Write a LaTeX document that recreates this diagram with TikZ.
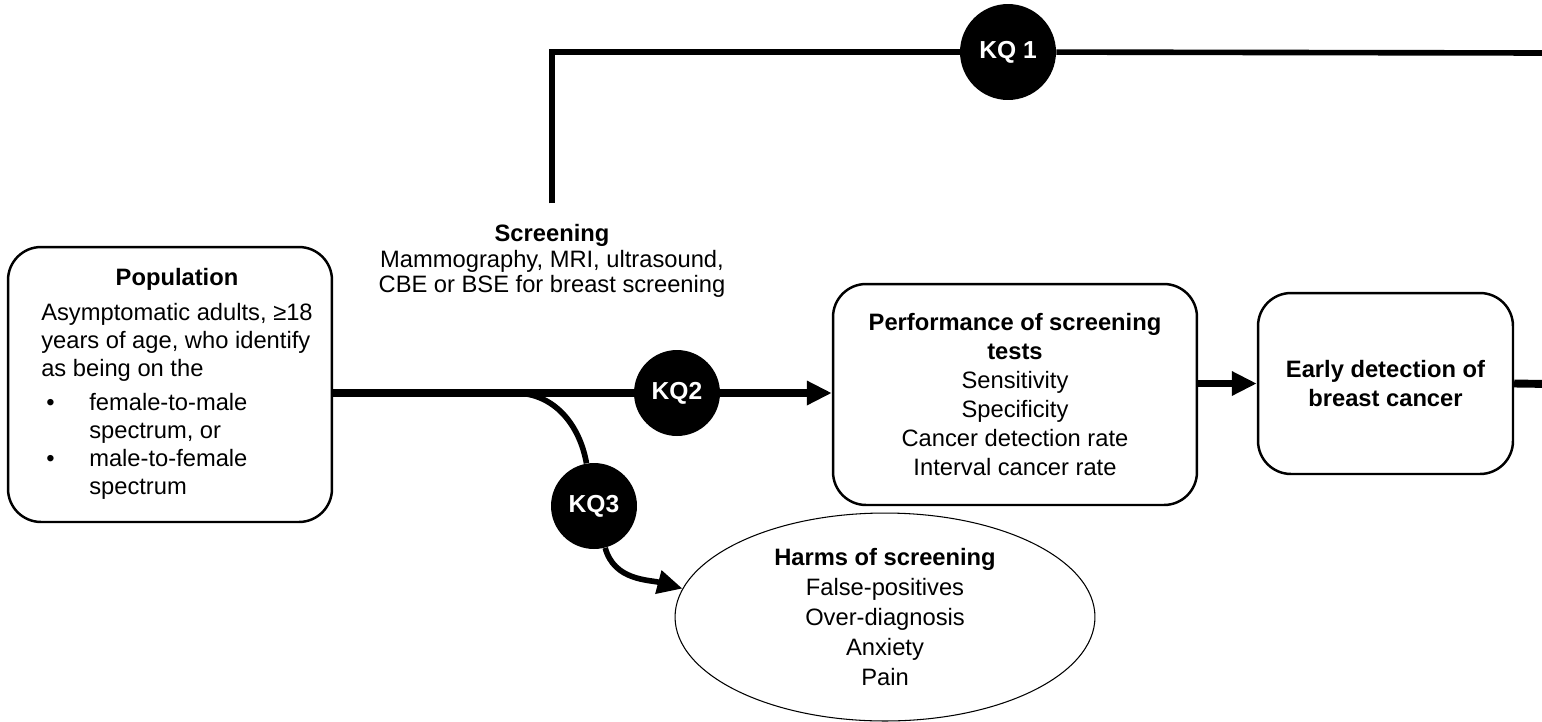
\documentclass[tikz,border=0pt]{standalone}
\usepackage{fontspec}
\setmainfont{Liberation Sans}
\usetikzlibrary{arrows.meta,shapes.geometric}

\begin{document}
\begin{tikzpicture}[x=0.02cm, y=-0.02cm,
    every node/.style={font=\fontsize{13.5}{16.4}\selectfont},
    roundbox/.style={rectangle, rounded corners=0.66cm, draw=black, line width=1.4pt, align=center, inner sep=0pt},
    kqnode/.style={circle, fill=black, text=white, font=\fontsize{14}{16}\selectfont\bfseries, inner sep=0pt, minimum size=1.72cm},
    heavy/.style={line width=4.5pt},
    link/.style={line width=3.2pt},
    tip/.style={-{Triangle[length=0.5cm,width=0.46cm]}}
    ]
    \useasboundingbox (0,0) rectangle (1542,721);

    \node [roundbox, minimum width=6.48cm, minimum height=5.5cm, font=\fontsize{13.5}{16}\selectfont] (pop) at (170,384.5)
      {\hspace*{0.28cm}\begin{tabular}{@{}l@{}}
       \multicolumn{1}{c}{\bfseries Population}\\[4pt]
       Asymptomatic adults, ≥18\\
       years of age, who identify\\
       as being on the\\[3pt]
       \hspace*{0.1cm}\makebox[0.86cm][l]{\textbullet}female-to-male\\
       \hspace*{0.96cm}spectrum, or\\
       \hspace*{0.1cm}\makebox[0.86cm][l]{\textbullet}male-to-female\\
       \hspace*{0.96cm}spectrum
       \end{tabular}};

    \node [align=center, inner ysep=11.8pt, font=\fontsize{13.5}{14.5}\selectfont] (scr) at (552,261)
      {\textbf{Screening}\\Mammography, MRI, ultrasound,\\CBE or BSE for breast screening};

    \node [kqnode, minimum size=1.92cm] (kq1) at (1008,52) {KQ 1};
    \node [kqnode] (kq2) at (677,393) {KQ2};
    \node [kqnode] (kq3) at (594,506) {KQ3};

    \node [roundbox, minimum width=7.28cm, minimum height=4.42cm] (perf) at (1015,394.5)
      {\textbf{Performance of screening}\\\textbf{tests}\\Sensitivity\\Specificity\\Cancer detection rate\\Interval cancer rate};
    \node [roundbox, minimum width=5.1cm, minimum height=3.62cm, font=\fontsize{13.5}{17}\selectfont] (early) at (1385.5,383.5)
      {\textbf{Early detection of}\\\textbf{breast cancer}};
    \node [ellipse, draw=black, line width=0.6pt, minimum width=8.4cm, minimum height=4.16cm, inner sep=0pt, align=center,
      font=\fontsize{13.5}{17}\selectfont] (harms) at (885,617)
      {\textbf{Harms of screening}\\False-positives\\Over-diagnosis\\Anxiety\\Pain};

    \coordinate (fork) at (515,393);
    \coordinate (rimtop) at (1550,53);
    \coordinate (rimmid) at (1550,384);

    \draw [link] (scr.north) |- (kq1);
    \draw [link] (kq1) -- (rimtop);

    \draw [heavy] (pop.east |- kq2) -- (kq2);
    \draw [heavy,tip] (kq2) -- (perf.west |- kq2);
    \draw [link] (fork) to [out=0, in=100] (kq3);
    \draw [link,tip] (kq3) to [out=-75, in=165] (harms.172);

    \draw [heavy,tip] (perf.east |- early) -- (early.west);
    \draw [heavy] (early.east) -- (rimmid);
\end{tikzpicture}
\end{document}
